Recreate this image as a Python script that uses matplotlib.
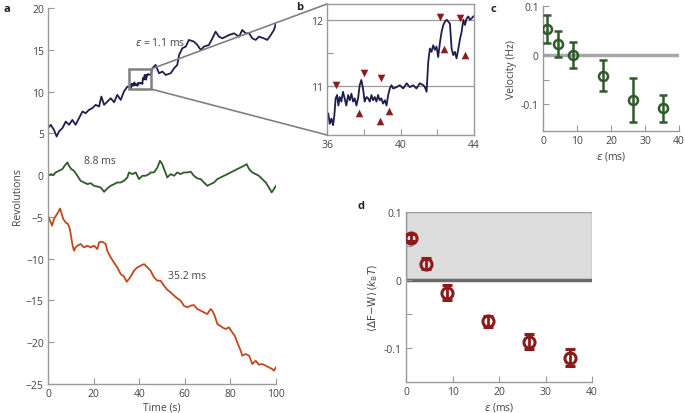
import numpy as np
import matplotlib
matplotlib.use("Agg")
import matplotlib.pyplot as plt
from matplotlib.patches import Rectangle, ConnectionPatch

plt.rcParams['font.family'] = ['Open Sans', 'DejaVu Sans']
plt.rcParams['mathtext.fontset'] = 'dejavusans'
plt.rcParams['font.size'] = 7.5

# ---- data ----
# panel b: zoom of the 1.1 ms trace
b_t = [36.00, 36.07, 36.15, 36.24, 36.33, 36.40, 36.47, 36.55, 36.62, 36.69, 36.78, 36.87, 36.96,
       37.05, 37.15, 37.24, 37.33, 37.42, 37.51, 37.60, 37.69, 37.78, 37.87, 37.96,
       38.05, 38.15, 38.24, 38.33, 38.42, 38.51, 38.60, 38.69, 38.78, 38.87, 38.96,
       39.05, 39.15, 39.24, 39.33, 39.42, 39.51, 39.60, 39.78, 39.96,
       40.15, 40.33, 40.51, 40.69, 40.87,
       41.05, 41.24, 41.33, 41.42, 41.51, 41.60, 41.69, 41.78, 41.87, 41.96,
       42.05, 42.15, 42.24, 42.33, 42.42, 42.51, 42.60, 42.69, 42.78, 42.87, 42.96,
       43.05, 43.15, 43.24, 43.33, 43.42, 43.51, 43.60, 43.69, 43.78, 43.87, 43.96]
b_v = [10.53, 10.58, 10.42, 10.50, 10.40, 10.55, 10.81, 10.86, 10.70, 10.83,
       10.76, 10.91, 10.81, 10.70, 10.86, 10.78, 10.88, 10.76, 10.81, 10.70,
       10.81, 11.01, 11.09, 10.96, 10.76, 10.83, 10.81, 10.76, 10.86, 10.78,
       10.83, 10.76, 10.86, 10.78, 10.81, 10.73, 10.78, 10.70, 10.86, 10.96,
       11.01, 10.96, 10.98, 11.01, 10.96, 11.04, 10.98, 11.01, 10.96, 11.04,
       11.01, 10.98, 10.91, 11.37, 11.57, 11.52, 11.62, 11.55, 11.60, 11.44,
       11.67, 11.83, 11.93, 11.98, 12.01, 11.98, 11.95, 11.57, 11.47, 11.52,
       11.42, 11.57, 11.72, 11.83, 12.01, 11.93, 12.03, 12.06, 12.01, 12.03,
       12.06]
# red arrowheads in panel b
down_t = [36.51, 38.0, 38.93, 42.13, 43.25]
down_v = [11.02, 11.19, 11.12, 12.05, 12.03]
up_t = [37.73, 38.87, 39.35, 42.36, 43.53]
up_v = [10.58, 10.47, 10.61, 11.56, 11.47]

# panel a: 1.1 ms trace outside the zoomed window
top_t_early = [0, 1.2, 2.6, 3.8, 4.8, 6.3, 7.8, 9.2, 10.7, 12.1, 13.6, 15.1, 16.5, 18.0,
               19.4, 20.9, 22.4, 23.4, 24.6, 26.0, 27.5, 29.0, 30.4, 31.9, 33.3, 34.8]
top_v_early = [5.62, 6.02, 5.42, 4.62, 5.22, 5.62, 6.41, 6.02, 6.61, 6.02, 6.81, 7.61, 7.41, 7.81,
               8.01, 8.41, 8.21, 9.40, 8.41, 8.80, 9.20, 8.72, 9.60, 9.00, 10.00, 10.60]
top_t_late = [45.0, 45.8, 47.2, 48.7, 50.2, 51.6, 53.8, 55.3, 56.7, 57.5,
              58.9, 60.4, 61.8, 64.0, 65.5, 67.0, 68.4, 70.6, 72.1, 73.5,
              75.0, 76.5, 77.9, 79.4, 81.6, 83.8, 85.2, 86.7, 88.2, 89.6,
              91.1, 92.5, 94.7, 96.2, 97.7, 99.1, 100]
top_v_late = [12.0, 12.79, 13.19, 12.19, 12.39, 11.99, 12.19, 12.79, 13.19, 14.38,
              15.18, 15.38, 16.18, 15.98, 15.58, 14.98, 15.38, 15.58, 16.37, 17.17,
              16.57, 16.37, 16.57, 16.77, 16.97, 16.57, 17.37, 16.97, 16.97, 16.37,
              16.18, 16.57, 16.37, 16.18, 16.77, 17.37, 18.17]

# 8.8 ms trace
mid_t = [0, 1.2, 2.3, 3.4, 4.8, 6.3, 7.3, 8.5, 9.2, 10.2, 11.4, 12.9, 14.3, 15.8, 17.3, 18.7,
         20.2, 21.6, 23.1, 24.6, 26.0, 27.5, 29.0, 30.4, 31.9, 33.3, 34.8, 35.5, 37.0, 38.5,
         39.9, 41.4, 42.8, 44.3, 45.0, 46.5, 48.0, 49.1, 50.1, 51.2, 52.3, 53.8, 55.3, 56.7,
         58.2, 59.6, 61.1, 62.6, 64.0, 65.5, 67.0, 68.4, 69.9, 71.3, 72.8, 74.3, 75.7, 77.2,
         78.7, 80.1, 81.6, 83.0, 84.5, 86.0, 87.1, 88.2, 89.6, 91.1, 92.5, 94.0, 95.5, 96.9,
         98.1, 99.1, 100]
mid_v = [-0.08, 0.12, 0, 0.32, 0.52, 0.72, 1.12, 1.52, 1.12, 0.72, 0.52, -0.08, -0.68, -0.88,
         -1.08, -0.96, -1.28, -1.36, -1.48, -2.0, -1.59, -1.28, -1.08, -0.88, -0.88, -0.68,
         -0.28, 0.32, 0.12, 0.32, -0.48, -0.08, -0.08, 0.12, 0.32, 0.32, 0.92, 1.71, 1.32,
         0.52, -0.28, 0.12, -0.08, 0.32, 0.12, 0.32, 0.32, 0.40, -0.08, -0.40, -0.48, -0.88,
         -1.28, -1.08, -0.88, -0.48, -0.28, -0.08, 0.12, 0.32, 0.52, 0.72, 0.92, 1.12, 1.32,
         0.72, 0.32, 0.12, -0.08, -0.48, -0.88, -1.48, -2.07, -1.67, -1.28]

# 35.2 ms trace
low_t = [0, 0.9, 1.8, 2.6, 3.5, 4.4, 5.3, 5.8, 6.7, 7.7, 8.8, 9.6, 10.2, 10.8, 11.4, 12.1,
         12.9, 14.3, 15.8, 17.3, 18.7, 20.2, 21.6, 22.4, 23.8, 25.3, 26.0, 27.5, 28.9, 30.4,
         31.9, 33.3, 34.5, 35.5, 36.5, 37.7, 39.2, 40.6, 42.1, 43.6, 45.0, 46.5, 48.0, 49.4,
         50.9, 52.3, 53.8, 55.3, 56.7, 58.2, 59.6, 61.1, 62.6, 64.0, 65.5, 67.0, 68.4, 69.9,
         71.3, 72.1, 73.1, 74.3, 75.4, 76.5, 77.9, 79.4, 80.8, 81.9, 83.0, 84.5, 85.2, 86.7,
         88.2, 89.6, 91.1, 92.5, 94.0, 95.5, 96.9, 98.4, 99.1, 100]
low_v = [-4.86, -5.46, -6.06, -5.26, -4.86, -4.47, -3.99, -4.47, -5.26, -5.66, -5.86, -6.46,
         -7.46, -8.45, -9.05, -8.65, -8.45, -8.25, -8.65, -8.45, -8.65, -8.45, -8.85, -8.05,
         -7.97, -8.25, -9.05, -9.85, -10.45, -11.04, -11.84, -12.12, -12.76, -12.44, -12.04,
         -11.44, -11.04, -10.85, -10.65, -11.04, -11.44, -12.24, -12.64, -12.64, -13.24,
         -13.72, -14.04, -14.43, -14.75, -15.03, -15.63, -15.83, -15.63, -15.55, -16.03,
         -16.23, -16.43, -16.63, -16.03, -16.23, -16.83, -17.82, -18.02, -18.22, -18.42,
         -18.22, -18.82, -19.22, -20.02, -21.01, -21.61, -21.41, -21.61, -22.61, -22.21,
         -22.69, -22.61, -22.81, -23.01, -23.21, -23.41, -23.01]

# panels c and d
eps = [1.1, 4.4, 8.8, 17.6, 26.4, 35.2]
velocity = [0.053, 0.022, 0.0, -0.042, -0.091, -0.109]
velocity_err = [0.029, 0.026, 0.026, 0.032, 0.045, 0.027]
dfw = [0.062, 0.024, -0.019, -0.061, -0.091, -0.114]
dfw_err = [0.005, 0.008, 0.011, 0.008, 0.011, 0.012]

navy = '#1f1f4d'
green = '#2f5b2b'
orange = '#c2471c'
red = '#8e1b1b'
spine_c = '#9a9a9a'
text_c = '#444444'


def style(ax, spines=('left', 'bottom')):
    for s in ['left', 'right', 'top', 'bottom']:
        ax.spines[s].set_visible(s in spines)
        ax.spines[s].set_color(spine_c)
        ax.spines[s].set_linewidth(1)
    ax.tick_params(direction='in', length=4, width=0.8, color=spine_c,
                   labelcolor=text_c, labelsize=7.5, pad=3)
    ax.tick_params(which='minor', direction='in', length=4, width=0.8, color=spine_c)


fig = plt.figure(figsize=(6.85, 4.14), dpi=100)
W, H = 685, 414


def box(l, t, r, b):
    return [l / W, 1 - b / H, (r - l) / W, (b - t) / H]


# ---- panel a ----
ax_a = fig.add_axes(box(48, 9, 276, 385))
style(ax_a)
top_t = top_t_early + b_t + top_t_late
top_v = top_v_early + b_v + top_v_late
ax_a.plot(top_t, top_v, color=navy, lw=1.3)
ax_a.plot(mid_t, mid_v, color=green, lw=1.3)
ax_a.plot(low_t, low_v, color=orange, lw=1.3)
ax_a.set_xlim(0, 100)
ax_a.set_ylim(-25, 20)
ax_a.set_xticks([0, 20, 40, 60, 80, 100])
ax_a.set_yticks(np.arange(-25, 21, 5))
ax_a.set_xlabel('Time (s)', color=text_c, labelpad=2)
ax_a.set_ylabel('Revolutions', color=text_c, labelpad=2)
ax_a.text(38, 15.9, r'$\varepsilon$ = 1.1 ms', color=text_c, va='center')
ax_a.text(15.8, 1.8, '8.8 ms', color=text_c, va='center')
ax_a.text(52.6, -12.0, '35.2 ms', color=text_c, va='center')
ax_a.add_patch(Rectangle((35.6, 10.3), 9.6, 2.4, fill=False, ec='#808080', lw=1.8, zorder=5))

# ---- panel b ----
ax_b = fig.add_axes(box(327, 5, 474, 136))
style(ax_b, spines=('left', 'right', 'top', 'bottom'))
ax_b.plot(b_t, b_v, color=navy, lw=1.3)
ax_b.scatter(down_t, down_v, marker='v', s=30, color=red, zorder=4, lw=0)
ax_b.scatter(up_t, up_v, marker='^', s=30, color=red, zorder=4, lw=0)
ax_b.set_xlim(36, 44)
ax_b.set_ylim(10.25, 12.25)
ax_b.set_xticks([36, 38, 40, 42, 44])
ax_b.set_xticklabels(['36', '', '40', '', '44'])
ax_b.set_yticks([11, 12])
ax_b.set_yticks([10.5, 11.5], minor=True)
for yv in [11, 12]:
    ax_b.axhline(yv, color='#9a9a9a', lw=0.9, zorder=0)

for (xa, ya), yb in [((45.2, 12.7), 1), ((45.2, 10.3), 0)]:
    con = ConnectionPatch(xyA=(xa, ya), coordsA=ax_a.transData,
                          xyB=(0, yb), coordsB=ax_b.transAxes,
                          color='#808080', lw=1.2)
    fig.add_artist(con)

# ---- panel c ----
ax_c = fig.add_axes(box(543, 7, 679, 132))
style(ax_c)
ax_c.axhline(0, color='#a8a8a8', lw=2.5, zorder=1)
ax_c.errorbar(eps, velocity, yerr=velocity_err, fmt='o', color=green, mfc='none',
              mec=green, mew=1.8, ms=6.5, elinewidth=1.8, capsize=3, capthick=1.8, zorder=3)
ax_c.set_xlim(0, 40)
ax_c.set_ylim(-0.155, 0.1)
ax_c.set_xticks([0, 10, 20, 30, 40])
ax_c.set_yticks([-0.1, 0, 0.1])
ax_c.set_yticklabels(['-0.1', '0', '0.1'])
ax_c.set_yticks([-0.05, 0.05], minor=True)
ax_c.set_xlabel(r'$\varepsilon$ (ms)', color=text_c, labelpad=2)
ax_c.set_ylabel('Velocity (Hz)', color=text_c, labelpad=3)

# ---- panel d ----
ax_d = fig.add_axes(box(406, 213, 592, 383))
style(ax_d)
ax_d.add_patch(Rectangle((0, 0), 40, 0.1, fc='#dcdcdc', ec='#9a9a9a', lw=1, zorder=0))
ax_d.axhline(0, color='#6a6a6a', lw=2.5, zorder=1)
ax_d.errorbar(eps, dfw, yerr=dfw_err, fmt='o', color=red, mfc='none',
              mec=red, mew=2.2, ms=8, elinewidth=2, capsize=3.5, capthick=2, zorder=3)
ax_d.set_xlim(0, 40)
ax_d.set_ylim(-0.15, 0.1)
ax_d.set_xticks([0, 10, 20, 30, 40])
ax_d.set_yticks([-0.1, 0, 0.1])
ax_d.set_yticklabels(['-0.1', '0', '0.1'])
ax_d.set_yticks([-0.05, 0.05], minor=True)
ax_d.set_xlabel(r'$\varepsilon$ (ms)', color=text_c, labelpad=2)
ax_d.set_ylabel(r'$\langle\mathrm{\Delta F{-}W}\rangle$ ($k_\mathrm{B}T$)', color=text_c, labelpad=3)

# panel letters
for letter, px, py in [('a', 3, 9), ('b', 296, 8), ('c', 491, 9), ('d', 357, 207)]:
    fig.text(px / W, 1 - py / H, letter, fontweight='bold', fontsize=8, va='center', color='#222222')

fig.savefig('out.png', dpi=100)
